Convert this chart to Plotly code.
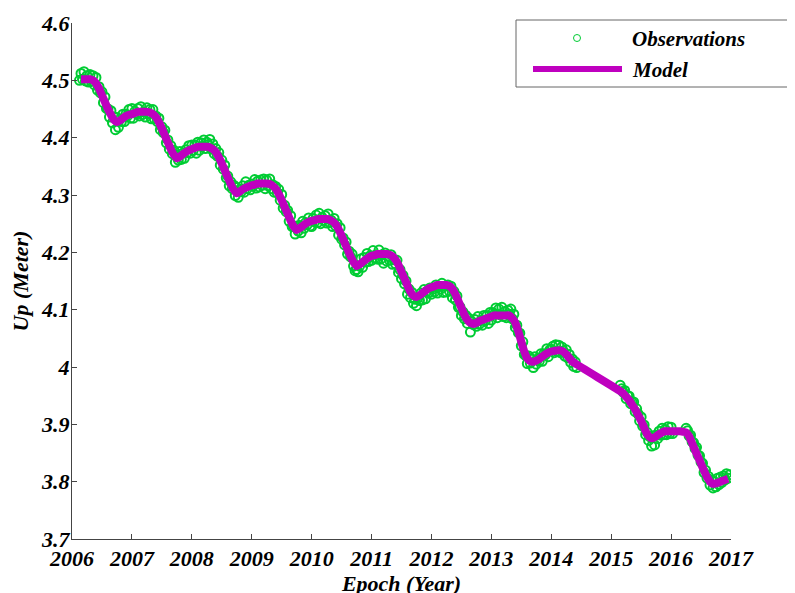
import numpy as np
import plotly.graph_objects as go

# ---------------- data ----------------
# Observations, sampled every 0.025 yr, one list per stretch, with its first epoch
obs_2006_start = 2006.125
obs_2006 = [4.500, 4.512, 4.502, 4.515, 4.499, 4.508, 4.497, 4.510, 4.498, 4.508,
            4.492, 4.505, 4.483, 4.489, 4.478, 4.480, 4.461, 4.471, 4.451, 4.450,
            4.436, 4.447, 4.426, 4.436, 4.414, 4.435, 4.418, 4.432, 4.428, 4.441,
            4.428, 4.441, 4.438, 4.449, 4.434]
obs_2007_start = 2007.0
obs_2007 = [4.451, 4.434, 4.446, 4.442, 4.451, 4.438, 4.454, 4.440, 4.445, 4.436,
            4.452, 4.442, 4.449, 4.433, 4.449, 4.433, 4.438, 4.428, 4.434, 4.414,
            4.419, 4.409, 4.413, 4.391, 4.396, 4.380, 4.386, 4.372, 4.378, 4.357,
            4.370, 4.361, 4.376, 4.362, 4.373, 4.364, 4.379, 4.374, 4.386, 4.373]
obs_2008_start = 2008.0
obs_2008 = [4.387, 4.378, 4.387, 4.373, 4.392, 4.378, 4.391, 4.385, 4.396, 4.381,
            4.392, 4.388, 4.397, 4.380, 4.389, 4.372, 4.381, 4.368, 4.374, 4.352,
            4.361, 4.345, 4.352, 4.330, 4.333, 4.316, 4.323, 4.311, 4.317, 4.299,
            4.313, 4.296, 4.309, 4.306, 4.316, 4.305, 4.323, 4.311, 4.317, 4.309]
obs_2009_start = 2009.0
obs_2009 = [4.319, 4.316, 4.327, 4.312, 4.324, 4.314, 4.326, 4.317, 4.328, 4.311,
            4.326, 4.316, 4.328, 4.311, 4.318, 4.305, 4.315, 4.304, 4.310, 4.291,
            4.301, 4.277, 4.282, 4.271, 4.273, 4.254, 4.264, 4.245, 4.245, 4.232,
            4.246, 4.237, 4.247, 4.234, 4.254, 4.242, 4.252, 4.248, 4.260, 4.246]
obs_2010_start = 2010.0
obs_2010 = [4.245, 4.259, 4.253, 4.265, 4.252, 4.268, 4.250, 4.261, 4.256, 4.264,
            4.251, 4.267, 4.252, 4.256, 4.245, 4.259, 4.246, 4.250, 4.230, 4.243,
            4.223, 4.225, 4.213, 4.218, 4.197, 4.202, 4.192, 4.197, 4.176, 4.168,
            4.170, 4.166, 4.176, 4.189, 4.174, 4.191, 4.183, 4.198, 4.184, 4.194]
obs_2011_start = 2011.0
obs_2011 = [4.186, 4.203, 4.190, 4.196, 4.188, 4.204, 4.188, 4.196, 4.181, 4.199,
            4.185, 4.193, 4.186, 4.196, 4.179, 4.187, 4.180, 4.186, 4.165, 4.170,
            4.154, 4.160, 4.145, 4.150, 4.127, 4.136, 4.121, 4.130, 4.111, 4.118,
            4.107, 4.121, 4.116, 4.129, 4.117, 4.135, 4.119, 4.132, 4.129, 4.138]
obs_2012_start = 2012.0
obs_2012 = [4.127, 4.136, 4.131, 4.143, 4.129, 4.140, 4.136, 4.146, 4.130, 4.141,
            4.131, 4.143, 4.132, 4.141, 4.121, 4.132, 4.117, 4.124, 4.104, 4.105,
            4.090, 4.096, 4.084, 4.090, 4.076, 4.085, 4.061, 4.079, 4.074, 4.083,
            4.071, 4.088, 4.075, 4.081, 4.073, 4.090, 4.081, 4.090, 4.076, 4.095]
obs_2013_start = 2013.0
obs_2013 = [4.082, 4.095, 4.092, 4.103, 4.086, 4.101, 4.091, 4.104, 4.088, 4.097,
            4.086, 4.099, 4.092, 4.101, 4.084, 4.092, 4.069, 4.073, 4.060, 4.059,
            4.037, 4.044, 4.022, 4.020, 4.006, 4.019, 4.007, 4.014, 3.999, 4.018,
            4.005, 4.014, 4.010, 4.023, 4.010, 4.023, 4.021, 4.032, 4.018, 4.030]
obs_2014_start = 2014.0
obs_2014 = [4.031, 4.036, 4.025, 4.039, 4.027, 4.038, 4.025, 4.035, 4.028, 4.019,
            4.030, 4.016, 4.022, 4.008, 4.014, 4.001, 4.009, 3.999]
obs_2015_start = 2015.15
obs_2015 = [3.968, 3.962, 3.956, 3.959, 3.945, 3.950, 3.949, 3.936, 3.938, 3.939,
            3.922, 3.927, 3.918, 3.906, 3.913, 3.897, 3.899, 3.882, 3.886, 3.872,
            3.878, 3.862, 3.880, 3.864, 3.881, 3.875, 3.888, 3.881, 3.893, 3.882,
            3.891, 3.882, 3.896, 3.884, 3.895, 3.884]
obs_2016_start = 2016.25
obs_2016 = [3.893, 3.889, 3.880, 3.881, 3.870, 3.868, 3.858, 3.860, 3.846, 3.845,
            3.834, 3.832, 3.816, 3.820, 3.806, 3.809, 3.794, 3.803, 3.789, 3.800,
            3.791, 3.806, 3.795, 3.808, 3.799, 3.810, 3.803, 3.814, 3.806, 3.812]
obs_step = 0.025

# Model, sampled every 0.05 yr (two stretches joined by a straight segment)
model_a_start = 2006.15
model_a = [4.502, 4.502, 4.502, 4.502, 4.500, 4.495, 4.486, 4.474, 4.462, 4.450,
           4.440, 4.431, 4.427, 4.430, 4.434, 4.438, 4.440,
           4.441, 4.443, 4.445, 4.445, 4.445, 4.445, 4.444, 4.441, 4.436, 4.427,
           4.416, 4.404, 4.392, 4.380, 4.370, 4.364, 4.367, 4.371, 4.375, 4.378,
           4.380, 4.382, 4.384, 4.384, 4.384, 4.384, 4.383, 4.380, 4.375, 4.366,
           4.355, 4.343, 4.331, 4.319, 4.309, 4.303, 4.306, 4.310, 4.313, 4.315,
           4.317, 4.318, 4.320, 4.320, 4.320, 4.320, 4.319, 4.316, 4.311, 4.302,
           4.291, 4.279, 4.267, 4.255, 4.245, 4.239, 4.242, 4.246, 4.250, 4.253,
           4.255, 4.256, 4.258, 4.258, 4.258, 4.258, 4.257, 4.254, 4.249, 4.240,
           4.229, 4.217, 4.205, 4.193, 4.183, 4.176, 4.179, 4.183, 4.187, 4.191,
           4.194, 4.195, 4.197, 4.197, 4.197, 4.197, 4.196, 4.193, 4.187, 4.178,
           4.166, 4.154, 4.142, 4.131, 4.124, 4.122, 4.125, 4.129, 4.133, 4.137,
           4.139, 4.141, 4.143, 4.143, 4.143, 4.143, 4.141, 4.136, 4.127, 4.115,
           4.103, 4.091, 4.082, 4.077, 4.075, 4.077, 4.080, 4.082, 4.084, 4.086,
           4.088, 4.090, 4.090, 4.090, 4.090, 4.090, 4.090, 4.085, 4.077, 4.062,
           4.044, 4.027, 4.015, 4.010, 4.009, 4.011, 4.014, 4.018, 4.022, 4.025,
           4.027, 4.028, 4.029, 4.029, 4.027, 4.022, 4.016, 4.010, 4.006]
model_b_start = 2015.15
model_b = [3.958, 3.954, 3.948, 3.942, 3.934, 3.926, 3.916, 3.906, 3.894, 3.883,
           3.877, 3.876, 3.879, 3.883, 3.886, 3.888, 3.888,
           3.888, 3.888, 3.888, 3.888, 3.887, 3.886, 3.879, 3.867, 3.855, 3.843,
           3.831, 3.819, 3.808, 3.800, 3.796, 3.797, 3.799, 3.801, 3.803, 3.805]
model_step = 0.05

x_ticks = list(range(2006, 2018))
y_ticks = [3.7, 3.8, 3.9, 4.0, 4.1, 4.2, 4.3, 4.4, 4.5, 4.6]

# ---------------- build ----------------
obs_parts = [(obs_2006_start, obs_2006), (obs_2007_start, obs_2007), (obs_2008_start, obs_2008),
             (obs_2009_start, obs_2009), (obs_2010_start, obs_2010), (obs_2011_start, obs_2011),
             (obs_2012_start, obs_2012), (obs_2013_start, obs_2013), (obs_2014_start, obs_2014),
             (obs_2015_start, obs_2015), (obs_2016_start, obs_2016)]
obs_x, obs_y = [], []
for s, vals in obs_parts:
    obs_x.extend(s + obs_step * np.arange(len(vals)))
    obs_y.extend(vals)

model_x = list(model_a_start + model_step * np.arange(len(model_a))) + \
          list(model_b_start + model_step * np.arange(len(model_b)))
model_y = model_a + model_b

GREEN = "rgb(0,204,51)"
MAG = "#BF00BF"
AX = "#444444"
FONT = dict(family="Liberation Serif, Times New Roman, serif", size=22, color="black",
            weight="bold", style="italic")
LEG_FONT = dict(FONT, size=21)

fig = go.Figure()
fig.add_trace(go.Scatter(x=obs_x, y=obs_y, mode="markers", name="Observations",
                         marker=dict(symbol="circle-open", size=9, color=GREEN,
                                     line=dict(width=2, color=GREEN)),
                         showlegend=False))
fig.add_trace(go.Scatter(x=model_x, y=model_y, mode="lines", name="Model",
                         line=dict(color=MAG, width=8, shape="spline", smoothing=0.6),
                         showlegend=False))

# the page body has an 8px margin, so the figure sits 8px right/down in the window
W, H = 795, 593
PL, PT, PW, PH = 64, 15, 659, 516           # plot area in figure pixels
L, T = PL, PT
R = W - PL - PW
B = H - PT - PH


def px(x_win):  # window pixel -> paper x
    return (x_win - 72) / PW


def py(y_win):  # window pixel -> paper y
    return (539 - y_win) / PH


shapes = [
    dict(type="rect", xref="paper", yref="paper", x0=px(516), x1=px(789), y0=py(87), y1=py(20),
         line=dict(color="#666666", width=1), fillcolor="white", layer="above"),
    dict(type="line", xref="paper", yref="paper", x0=px(533), x1=px(622), y0=py(69), y1=py(69),
         line=dict(color=MAG, width=6), layer="above"),
    dict(type="circle", xref="paper", yref="paper", x0=px(573.5), x1=px(580.5), y0=py(41.5), y1=py(34.5),
         line=dict(color=GREEN, width=1), layer="above"),
]
annotations = [
    dict(text="Observations", xref="paper", yref="paper", x=px(630), y=py(39), xanchor="left",
         yanchor="middle", showarrow=False, font=LEG_FONT),
    dict(text="Model", xref="paper", yref="paper", x=px(630), y=py(70), xanchor="left",
         yanchor="middle", showarrow=False, font=LEG_FONT),
]

fig.update_layout(
    width=W, height=H, margin=dict(l=L, r=R, t=T, b=B, autoexpand=False),
    plot_bgcolor="white", paper_bgcolor="white",
    font=FONT, shapes=shapes, annotations=annotations, showlegend=False,
)
fig.update_xaxes(range=[2006, 2017], tickvals=x_ticks, ticks="inside", ticklen=5, tickwidth=1,
                 tickcolor=AX, showline=True, linecolor=AX, linewidth=1, showgrid=False,
                 zeroline=False, tickfont=FONT, ticklabelstandoff=0, automargin=False,
                 title=dict(text="Epoch (Year)", font=FONT, standoff=5))
fig.update_yaxes(range=[3.7, 4.6], tickvals=y_ticks, ticks="inside", ticklen=5, tickwidth=1,
                 tickcolor=AX, showline=True, linecolor=AX, linewidth=1, showgrid=False,
                 zeroline=False, tickfont=FONT, ticklabelstandoff=-3, automargin=False,
                 title=dict(text="Up (Meter)", font=FONT, standoff=12))

fig.write_html("out.html")
